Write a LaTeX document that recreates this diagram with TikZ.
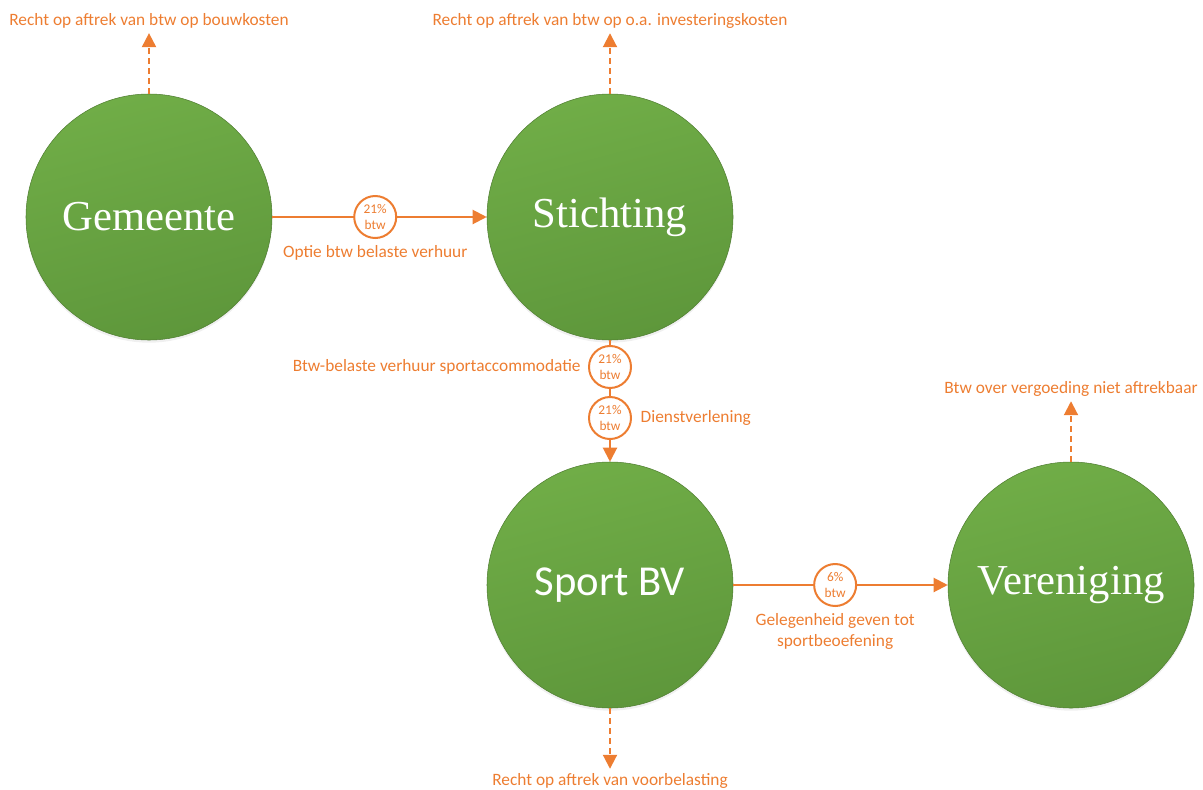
\documentclass[tikz,border=0pt]{standalone}
\usepackage{fontspec}
\setmainfont{Carlito}
\newfontfamily\serifname{Liberation Serif}
\usetikzlibrary{arrows.meta,positioning,shadows}

\definecolor{btworange}{HTML}{ED7D31}
\definecolor{greenlight}{HTML}{70AD47}
\definecolor{greendark}{HTML}{5E973B}
\definecolor{greenedge}{HTML}{507E32}

\begin{document}
\begin{tikzpicture}[
    x=0.75pt, y=-0.75pt,
    >={Triangle[length=10.5pt,width=10.5pt]},
    party/.style={
        circle,
        draw=greenedge,
        thin,
        top color=greenlight,
        bottom color=greendark,
        shading angle=15,
        minimum size=184.5pt,
        inner sep=0pt,
        text=white,
        font=\fontsize{32}{36}\selectfont,
        drop shadow={opacity=0.12, shadow xshift=0pt, shadow yshift=-2pt}
    },
    rate/.style={
        circle,
        draw=btworange,
        line width=1.5pt,
        fill=white,
        minimum size=31.5pt,
        inner sep=0pt,
        align=center,
        text=btworange,
        font=\fontsize{10}{11.5}\selectfont
    },
    textline/.style={
        text=btworange,
        font=\fontsize{13}{16}\selectfont,
        align=center
    },
    message/.style={
        ->,
        draw=btworange,
        line width=1.5pt
    },
    benefit/.style={
        ->,
        draw=btworange,
        line width=1.5pt,
        dash pattern=on 4.5pt off 3pt
    }
]
\useasboundingbox (0,0) rectangle (1203,789);

% Positions of the four parties
\def\LeftX{149}
\def\MidX{610}
\def\RightX{1071}
\def\TopY{217}
\def\LowY{585}

% ==================================================
% Parties
% ==================================================

\node[party] (gem) at (\LeftX,\TopY)  {\serifname Gemeente};
\node[party] (sti) at (\MidX,\TopY)   {\serifname Stichting};
\node[party] (spo) at (\MidX,\LowY)   {Sport BV};
\node[party] (ver) at (\RightX,\LowY) {\serifname Vereniging};

% ==================================================
% Supplies with btw
% ==================================================

% Gemeente rents out to Stichting
\draw[message] (gem) -- node[rate, pos=0.48] (rentrate) {21\%\\btw} (sti);
\node[textline, below=1pt of rentrate] {Optie btw belaste verhuur};

% Stichting to Sport BV
\draw[message] (sti)
    -- node[rate, pos=0.22] (accrate) {21\%\\btw}
       node[rate, pos=0.64] (servrate) {21\%\\btw}
    (spo);
\node[textline, left=2pt of accrate] {Btw-belaste verhuur sportaccommodatie};
\node[textline, right=3pt of servrate] {Dienstverlening};

% Sport BV to Vereniging
\draw[message] (spo) -- node[rate, pos=0.475] (sportrate) {6\%\\btw} (ver);
\node[textline, below=1pt of sportrate] {Gelegenheid geven tot\\sportbeoefening};

% ==================================================
% Deduction of btw
% ==================================================

\node[textline] (gemdeduct) at (\LeftX,21)
    {Recht op aftrek van btw op bouwkosten};
\node[textline] (stideduct) at (\MidX,21)
    {Recht op aftrek van btw op o.a. investeringskosten};
\node[textline] (verdeduct) at (\RightX,389)
    {Btw over vergoeding niet aftrekbaar};
\node[textline] (spodeduct) at (\MidX,781)
    {Recht op aftrek van voorbelasting};

\draw[benefit] (gem) -- (gemdeduct);
\draw[benefit] (sti) -- (stideduct);
\draw[benefit] (ver) -- (verdeduct);
\draw[benefit] (spo) -- (spodeduct);

\end{tikzpicture}
\end{document}
